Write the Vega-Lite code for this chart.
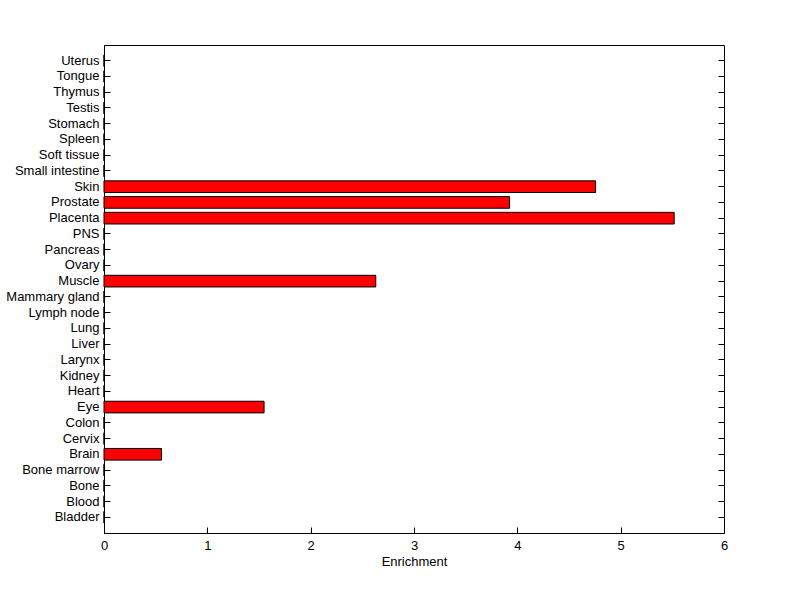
{
  "$schema": "https://vega.github.io/schema/vega-lite/v6.json",
  "width": 620,
  "height": 488,
  "autosize": {"type": "none"},
  "padding": {"left": 104, "top": 45, "right": 76, "bottom": 66},
  "background": "white",
  "config": {
    "view": {"stroke": "black", "strokeWidth": 1},
    "font": "Liberation Sans",
    "axis": {
      "domainColor": "black",
      "tickColor": "black",
      "labelColor": "black",
      "titleColor": "black",
      "labelFont": "Liberation Sans",
      "titleFont": "Liberation Sans",
      "labelFontSize": 13,
      "titleFontSize": 13,
      "titleFontWeight": "normal",
      "grid": false,
      "tickSize": -6
    }
  },
  "data": {
    "values": [
      {"tissue": "Uterus", "enrichment": 0},
      {"tissue": "Tongue", "enrichment": 0},
      {"tissue": "Thymus", "enrichment": 0},
      {"tissue": "Testis", "enrichment": 0},
      {"tissue": "Stomach", "enrichment": 0},
      {"tissue": "Spleen", "enrichment": 0},
      {"tissue": "Soft tissue", "enrichment": 0},
      {"tissue": "Small intestine", "enrichment": 0},
      {"tissue": "Skin", "enrichment": 4.757},
      {"tissue": "Prostate", "enrichment": 3.925},
      {"tissue": "Placenta", "enrichment": 5.518},
      {"tissue": "PNS", "enrichment": 0},
      {"tissue": "Pancreas", "enrichment": 0},
      {"tissue": "Ovary", "enrichment": 0},
      {"tissue": "Muscle", "enrichment": 2.63},
      {"tissue": "Mammary gland", "enrichment": 0},
      {"tissue": "Lymph node", "enrichment": 0},
      {"tissue": "Lung", "enrichment": 0},
      {"tissue": "Liver", "enrichment": 0},
      {"tissue": "Larynx", "enrichment": 0},
      {"tissue": "Kidney", "enrichment": 0},
      {"tissue": "Heart", "enrichment": 0},
      {"tissue": "Eye", "enrichment": 1.549},
      {"tissue": "Colon", "enrichment": 0},
      {"tissue": "Cervix", "enrichment": 0},
      {"tissue": "Brain", "enrichment": 0.556},
      {"tissue": "Bone marrow", "enrichment": 0},
      {"tissue": "Bone", "enrichment": 0},
      {"tissue": "Blood", "enrichment": 0},
      {"tissue": "Bladder", "enrichment": 0}
    ]
  },
  "encoding": {
    "y": {
      "field": "tissue",
      "type": "nominal",
      "sort": null,
      "scale": {"paddingInner": 0.26, "paddingOuter": 0.63}
    },
    "x": {
      "field": "enrichment",
      "type": "quantitative",
      "scale": {"domain": [0, 6], "nice": false}
    }
  },
  "layer": [
    {
      "mark": {"type": "bar", "color": "#ff0000", "stroke": "black", "strokeWidth": 1},
      "encoding": {
        "y": {
          "field": "tissue",
          "type": "nominal",
          "sort": null,
          "axis": {"orient": "left", "title": null, "labelPadding": 11, "domain": true}
        },
        "x": {
          "field": "enrichment",
          "type": "quantitative",
          "axis": {"orient": "bottom", "title": "Enrichment", "values": [0, 1, 2, 3, 4, 5, 6], "format": "d", "labelPadding": 12, "titlePadding": 3, "labelFlush": false}
        }
      }
    },
    {
      "mark": {"type": "bar", "opacity": 0},
      "encoding": {
        "y": {
          "field": "tissue",
          "type": "nominal",
          "sort": null,
          "axis": {"orient": "right", "title": null, "labels": false, "domain": false}
        }
      }
    }
  ],
  "resolve": {"axis": {"y": "independent"}}
}
